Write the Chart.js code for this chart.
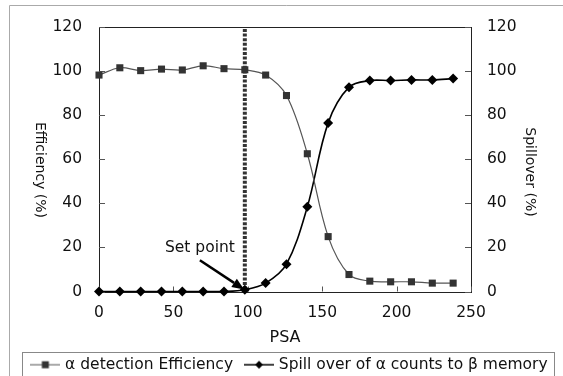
<!DOCTYPE html>
<html>
<head>
<meta charset="utf-8">
<script src="https://cdn.jsdelivr.net/npm/chart.js@4.4.1/dist/chart.umd.min.js"></script>
<style>
  html, body { margin: 0; padding: 0; background: #fff; }
  #wrap { width: 563px; height: 376px; position: relative; }
</style>
</head>
<body>
<div id="wrap"><canvas id="chart"></canvas></div>
<script>
// values
const psa = [0, 14, 28, 42, 56, 70, 84, 98, 112, 126, 140, 154, 168, 182, 196, 210, 224, 238];
const efficiency = [98.2, 101.5, 100.2, 100.9, 100.5, 102.4, 101.1, 100.6, 98.2, 88.9, 62.5, 24.9, 7.7, 4.7, 4.4, 4.4, 3.8, 3.8];
const spillover = [0, 0, 0, 0, 0, 0, 0, 0.8, 3.8, 12.4, 38.4, 76.5, 92.7, 95.7, 95.7, 96.0, 96.0, 96.6];
const xTicks = [0, 50, 100, 150, 200, 250];
const yTicks = [0, 20, 40, 60, 80, 100, 120];
const seriesNames = ['α detection Efficiency', 'Spill over of α counts to β memory'];

// set point annotation (data coords)
const setPoint = 98;
const arrowFrom = [67.8, 14.2];
const arrowTo = [97.5, 0.9];
const setPointLabel = [67.8, 19.8];

const FONT = 'DejaVu Sans';
Chart.defaults.font.family = FONT;
Chart.defaults.color = '#111';

function legendSample(kind) {
    const c = document.createElement('canvas');
    c.width = 30; c.height = 12;
    const g = c.getContext('2d');
    g.strokeStyle = kind === 'square' ? '#555' : '#000';
    g.lineWidth = kind === 'square' ? 1 : 1.5;
    g.beginPath(); g.moveTo(0, 6); g.lineTo(30, 6); g.stroke();
    g.fillStyle = kind === 'square' ? '#333' : '#000';
    if (kind === 'square') {
        g.fillRect(11.5, 2.5, 7, 7);
    } else {
        g.beginPath(); g.moveTo(15, 2); g.lineTo(19, 6); g.lineTo(15, 10); g.lineTo(11, 6); g.closePath(); g.fill();
    }
    return c;
}
const samples = [legendSample('square'), legendSample('diamond')];

function pts(ys) { return psa.map((x, i) => ({x: x, y: ys[i]})); }
function fixTicks(list) { return s => { s.ticks = list.map(v => ({value: v})); }; }

const decorations = {
    id: 'decorations',
    afterLayout(chart) {
        const lg = chart.legend;
        lg.top += 6.5; lg.bottom += 6.5;
        lg.left += 9; lg.right += 9;
    },
    beforeDraw(chart) {
        const ctx = chart.ctx;
        ctx.save();
        ctx.strokeStyle = '#aaa'; ctx.lineWidth = 1;
        ctx.beginPath();
        ctx.moveTo(9.5, 380); ctx.lineTo(9.5, 5.5); ctx.lineTo(563, 5.5);
        ctx.stroke();
        ctx.restore();
    },
    beforeDatasetsDraw(chart) {
        const {ctx, chartArea: a, scales} = chart;
        ctx.save();
        // plot frame
        ctx.strokeStyle = '#222'; ctx.lineWidth = 1;
        ctx.strokeRect(Math.round(a.left) + 0.5, Math.round(a.top) + 0.5,
            Math.round(a.right - a.left), Math.round(a.bottom - a.top));
        // inward tick marks
        ctx.strokeStyle = '#555';
        ctx.beginPath();
        scales.x.ticks.forEach(t => {
            const px = Math.round(scales.x.getPixelForValue(t.value)) + 0.5;
            ctx.moveTo(px, a.bottom); ctx.lineTo(px, a.bottom - 5);
        });
        scales.y.ticks.forEach(t => {
            const py = Math.round(scales.y.getPixelForValue(t.value)) + 0.5;
            ctx.moveTo(a.left, py); ctx.lineTo(a.left + 6, py);
        });
        scales.y1.ticks.forEach(t => {
            const py = Math.round(scales.y1.getPixelForValue(t.value)) + 0.5;
            ctx.moveTo(a.right, py); ctx.lineTo(a.right - 6, py);
        });
        ctx.stroke();
        // dotted set point line
        const sx = scales.x.getPixelForValue(setPoint);
        ctx.strokeStyle = '#333'; ctx.lineWidth = 4;
        ctx.setLineDash([3, 1.6]);
        ctx.beginPath(); ctx.moveTo(sx, a.top + 2); ctx.lineTo(sx, a.bottom); ctx.stroke();
        ctx.restore();
    },
    afterDatasetsDraw(chart) {
        const {ctx, scales} = chart;
        const X = v => scales.x.getPixelForValue(v), Y = v => scales.y.getPixelForValue(v);
        ctx.save();
        // arrow
        const x0 = X(arrowFrom[0]), y0 = Y(arrowFrom[1]), x1 = X(arrowTo[0]), y1 = Y(arrowTo[1]);
        const ang = Math.atan2(y1 - y0, x1 - x0);
        const hl = 12, hw = 5;
        const bx = x1 - hl * Math.cos(ang), by = y1 - hl * Math.sin(ang);
        ctx.strokeStyle = '#000'; ctx.fillStyle = '#000'; ctx.lineWidth = 2.5;
        ctx.beginPath(); ctx.moveTo(x0, y0); ctx.lineTo(bx, by); ctx.stroke();
        ctx.beginPath();
        ctx.moveTo(x1, y1);
        ctx.lineTo(bx + hw * Math.sin(ang), by - hw * Math.cos(ang));
        ctx.lineTo(bx - hw * Math.sin(ang), by + hw * Math.cos(ang));
        ctx.closePath(); ctx.fill();
        // label
        ctx.font = '15.5px ' + FONT;
        ctx.fillStyle = '#111';
        ctx.textAlign = 'center'; ctx.textBaseline = 'middle';
        ctx.fillText('Set point', X(setPointLabel[0]), Y(setPointLabel[1]));
        // axis titles, both reading top to bottom
        ctx.font = '14px ' + FONT;
        [['Efficiency (%)', 40, 170], ['Spillover (%)', 530, 172]].forEach(([t, x, y]) => {
            ctx.save(); ctx.translate(x, y); ctx.rotate(Math.PI / 2);
            ctx.fillText(t, 0, 0); ctx.restore();
        });
        ctx.restore();
    },
    afterDraw(chart) {
        const ctx = chart.ctx;
        ctx.save();
        ctx.strokeStyle = '#888'; ctx.lineWidth = 1;
        ctx.strokeRect(22.5, 352.5, 532, 40);
        ctx.restore();
    }
};

new Chart(document.getElementById('chart'), {
    type: 'line',
    data: {
        datasets: [
            {
                label: seriesNames[0],
                data: pts(efficiency),
                yAxisID: 'y',
                borderColor: '#555', borderWidth: 1.2,
                pointStyle: 'rect', pointRadius: 5,
                pointBackgroundColor: '#333', pointBorderColor: '#333', pointBorderWidth: 0,
                tension: 0.35, clip: false
            },
            {
                label: seriesNames[1],
                data: pts(spillover),
                yAxisID: 'y1',
                borderColor: '#000', borderWidth: 1.6,
                pointStyle: 'rectRot', pointRadius: 5,
                pointBackgroundColor: '#000', pointBorderColor: '#000', pointBorderWidth: 0,
                tension: 0.35, clip: false
            }
        ]
    },
    options: {
        responsive: true,
        maintainAspectRatio: false,
        animation: false,
        events: [],
        layout: { padding: { top: 27, left: 0, right: 0, bottom: 0 } },
        plugins: {
            tooltip: { enabled: false },
            legend: {
                position: 'bottom',
                labels: {
                    usePointStyle: true,
                    pointStyleWidth: 24,
                    padding: 14,
                    font: { size: 15.5 },
                    color: '#111',
                    generateLabels: chart => chart.data.datasets.map((ds, i) => ({
                        text: ds.label, pointStyle: samples[i], datasetIndex: i,
                        fillStyle: '#000', strokeStyle: '#000', lineWidth: 0, hidden: false, fontColor: '#111'
                    }))
                }
            }
        },
        scales: {
            x: {
                type: 'linear', min: 0, max: 250,
                afterBuildTicks: fixTicks(xTicks),
                afterFit: s => { s.height = 45; },
                grid: { display: false, drawTicks: false },
                border: { display: false },
                ticks: { padding: 12, font: { size: 15.5 }, maxRotation: 0 },
                title: { display: true, text: 'PSA', font: { size: 16 }, padding: { top: 0, bottom: -11 } }
            },
            y: {
                position: 'left', min: 0, max: 120,
                afterBuildTicks: fixTicks(yTicks),
                afterFit: s => { s.width = 99; },
                grid: { display: false, drawTicks: false },
                border: { display: false },
                ticks: { padding: 17, font: { size: 15.5 } }
            },
            y1: {
                position: 'right', min: 0, max: 120,
                afterBuildTicks: fixTicks(yTicks),
                afterFit: s => { s.width = 92; },
                grid: { display: false, drawTicks: false },
                border: { display: false },
                ticks: { padding: 16, font: { size: 15.5 } }
            }
        }
    },
    plugins: [decorations]
});
</script>
</body>
</html>
